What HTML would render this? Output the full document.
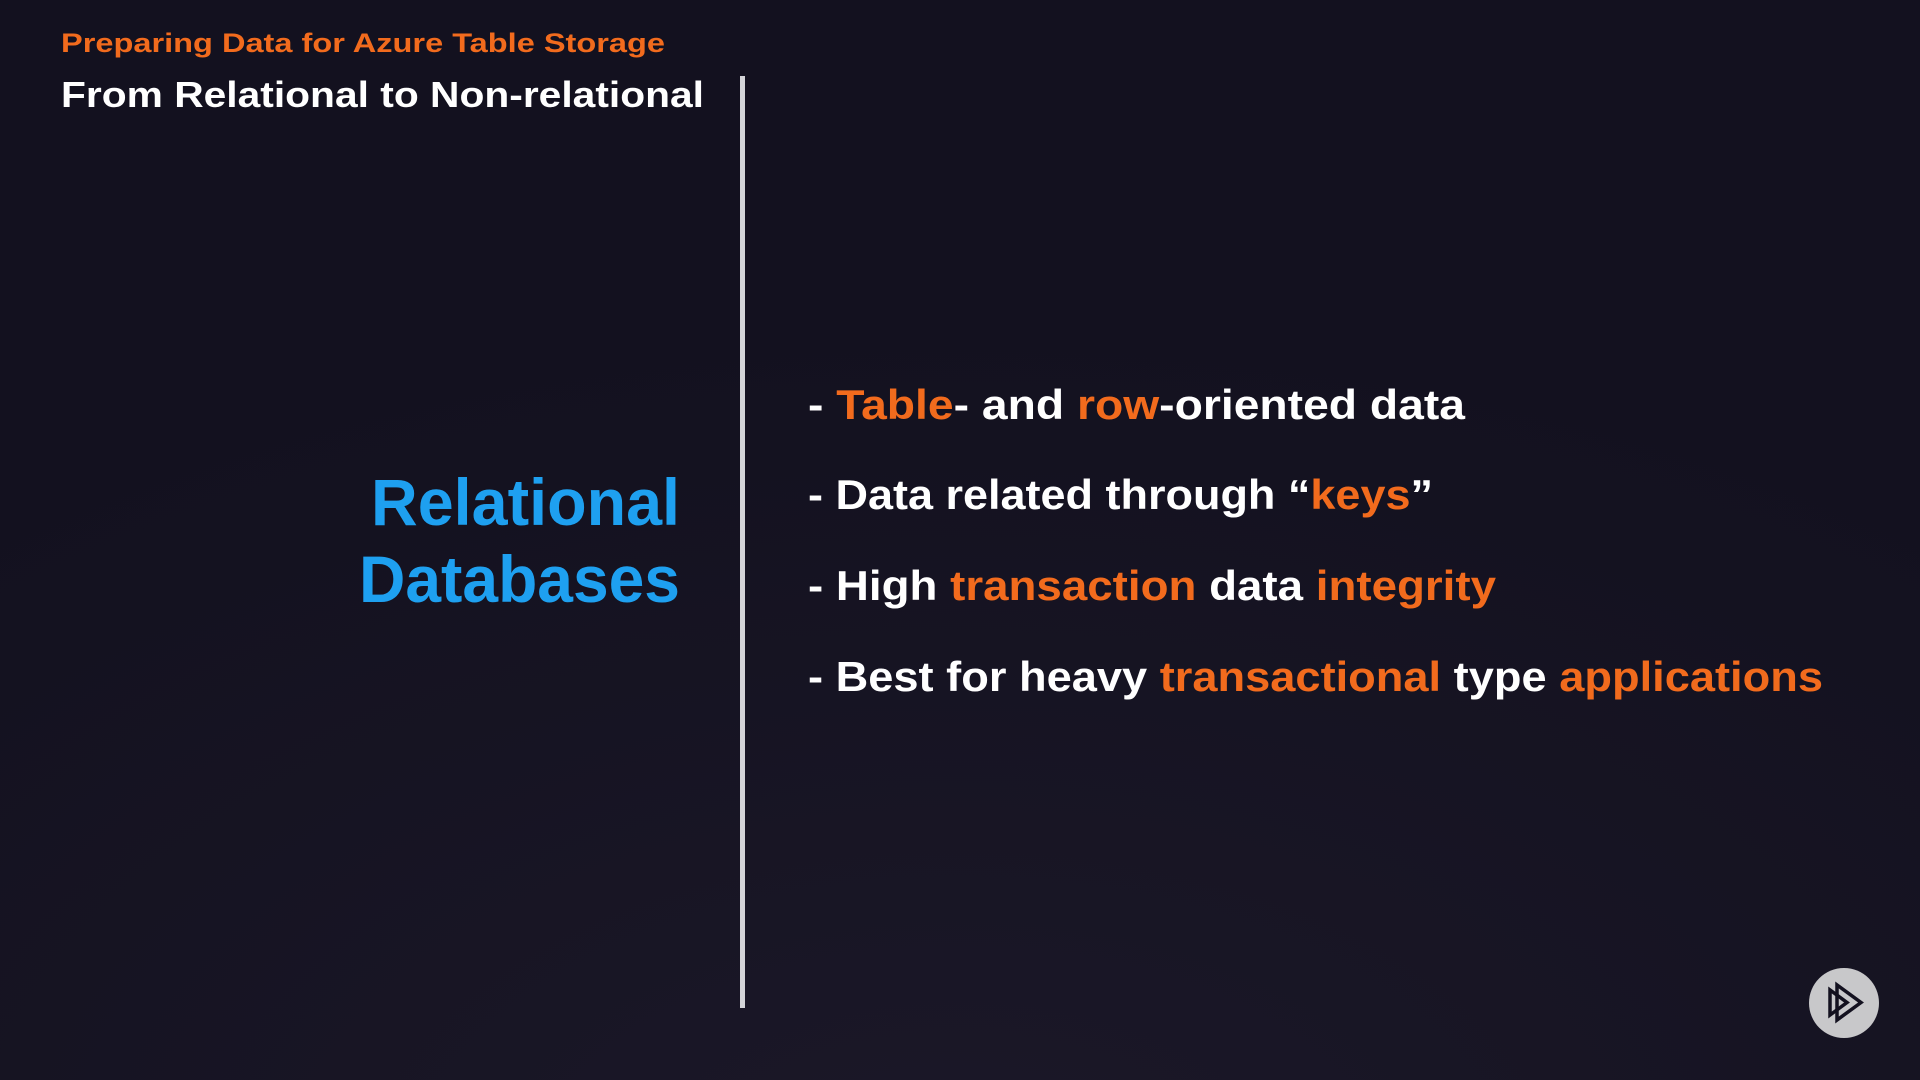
<!DOCTYPE html>
<html><head><meta charset="utf-8"><style>
html,body{margin:0;padding:0;background:#13111f;}
svg{display:block}
text{font-family:"Liberation Sans",sans-serif;font-weight:bold;}
</style></head><body>
<svg width="1920" height="1080" viewBox="0 0 1920 1080" xmlns="http://www.w3.org/2000/svg">
<defs><radialGradient id="g" cx="0.5" cy="1.1" r="0.8"><stop offset="0" stop-color="#1b1828"/><stop offset="1" stop-color="#13111f"/></radialGradient></defs>
<rect width="1920" height="1080" fill="url(#g)"/>
<text x="61" y="52" font-size="27" fill="#f26b1d" textLength="604" lengthAdjust="spacingAndGlyphs">Preparing Data for Azure Table Storage</text>
<text x="61" y="107" font-size="36" fill="#ffffff" textLength="643" lengthAdjust="spacingAndGlyphs">From Relational to Non-relational</text>
<rect x="740" y="76" width="5" height="932" fill="#d4d4d8"/>
<text x="680" y="525" font-size="66" fill="#1ea0f0" text-anchor="end" textLength="309" lengthAdjust="spacingAndGlyphs">Relational</text>
<text x="680" y="602" font-size="66" fill="#1ea0f0" text-anchor="end" textLength="321" lengthAdjust="spacingAndGlyphs">Databases</text>
<g font-size="42" fill="#ffffff">
<text x="808" y="419" textLength="657" lengthAdjust="spacingAndGlyphs">- <tspan fill="#f26b1d">Table</tspan>- and <tspan fill="#f26b1d">row</tspan>-oriented data</text>
<text x="808" y="509" textLength="625" lengthAdjust="spacingAndGlyphs">- Data related through “<tspan fill="#f26b1d">keys</tspan>”</text>
<text x="808" y="600" textLength="688" lengthAdjust="spacingAndGlyphs">- High <tspan fill="#f26b1d">transaction</tspan> data <tspan fill="#f26b1d">integrity</tspan></text>
<text x="808" y="691" textLength="1015" lengthAdjust="spacingAndGlyphs">- Best for heavy <tspan fill="#f26b1d">transactional</tspan> type <tspan fill="#f26b1d">applications</tspan></text>
</g>
<circle cx="1844" cy="1003" r="35" fill="#c8c8ca"/>
<g fill="none" stroke="#13111f" stroke-width="3.5" stroke-linejoin="miter">
<polygon points="1830,990 1830,1015 1847,1002.5"/>
<polygon points="1837,985 1837,1020 1861,1002.5"/>
</g>
</svg>
</body></html>
